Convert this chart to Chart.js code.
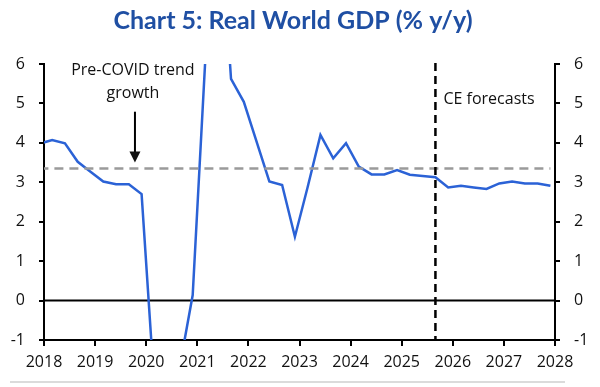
<!DOCTYPE html>
<html>
<head>
<meta charset="utf-8">
<script src="https://cdn.jsdelivr.net/npm/chart.js@4.4.0/dist/chart.umd.min.js"></script>
<style>
  html, body { margin: 0; padding: 0; background: #fff; }
  #wrap { width: 600px; height: 387px; }
</style>
</head>
<body>
<div id="wrap"><canvas id="gdpChart" width="600" height="387"></canvas></div>
<script>
// Real world GDP, % y/y (quarterly, forecasts from 2025Q3)
const quarters = [
    '2017Q4',
    '2018Q1', '2018Q2', '2018Q3', '2018Q4',
    '2019Q1', '2019Q2', '2019Q3', '2019Q4',
    '2020Q1', '2020Q2', '2020Q3', '2020Q4',
    '2021Q1', '2021Q2', '2021Q3', '2021Q4',
    '2022Q1', '2022Q2', '2022Q3', '2022Q4',
    '2023Q1', '2023Q2', '2023Q3', '2023Q4',
    '2024Q1', '2024Q2', '2024Q3', '2024Q4',
    '2025Q1', '2025Q2', '2025Q3', '2025Q4',
    '2026Q1', '2026Q2', '2026Q3', '2026Q4',
    '2027Q1', '2027Q2', '2027Q3', '2027Q4'
];
const gdpGrowth = [
    3.98,
    4.07, 3.99, 3.52, 3.27,
    3.02, 2.95, 2.95, 2.70,
    -2.2, -10.0, -1.65, 0.14,
    6.2, 10.5, 5.62, 5.04,
    4.03, 3.02, 2.93, 1.62,
    2.88, 4.20, 3.61, 3.99,
    3.40, 3.20, 3.20, 3.31,
    3.19, 3.16, 3.13, 2.87,
    2.91, 2.87, 2.83, 2.97,
    3.02, 2.97, 2.97, 2.91
];
const trendGrowth = 3.35;
const forecastStart = '2025Q3';
const yearTicks = [2018, 2019, 2020, 2021, 2022, 2023, 2024, 2025, 2026, 2027, 2028];
const yMin = -1, yMax = 6;

const FONT = '"Open Sans", "Liberation Sans", sans-serif';

// quarter label -> position on a year axis (points sit mid quarter)
function quarterPos(q) {
    const yr = parseInt(q.slice(0, 4), 10);
    const n = parseInt(q.slice(5), 10);
    return yr + (n - 1) * 0.25 + 0.16;
}

const gdpPoints = quarters.map((q, i) => ({ x: quarterPos(q), y: gdpGrowth[i] }));
const trendPoints = [
    { x: quarterPos(quarters[0]), y: trendGrowth },
    { x: quarterPos(quarters[quarters.length - 1]), y: trendGrowth }
];

// extras: title, zero line, forecast marker, notes
const extrasPlugin = {
    id: 'extras',
    beforeDatasetsDraw(chart) {
        const { ctx, chartArea: a, scales } = chart;
        const y0 = scales.y.getPixelForValue(0);
        ctx.save();
        ctx.strokeStyle = '#000';
        ctx.lineWidth = 2;
        ctx.beginPath();
        ctx.moveTo(a.left, y0);
        ctx.lineTo(a.right, y0);
        ctx.stroke();
        ctx.restore();
    },
    afterDatasetsDraw(chart) {
        const { ctx, chartArea: a, scales } = chart;
        const x = scales.x, y = scales.y;

        // forecast divider
        const fx = x.getPixelForValue(quarterPos(forecastStart));
        ctx.save();
        ctx.strokeStyle = '#000';
        ctx.lineWidth = 2.5;
        ctx.setLineDash([8, 5]);
        ctx.beginPath();
        ctx.moveTo(fx, a.top - 1);
        ctx.lineTo(fx, a.bottom);
        ctx.stroke();
        ctx.restore();

        ctx.save();
        ctx.fillStyle = '#111';
        ctx.font = '16px ' + FONT;
        ctx.textBaseline = 'middle';
        ctx.textAlign = 'left';
        ctx.fillText('CE forecasts', fx + 8, y.getPixelForValue(5.1));

        // pre-covid note + arrow
        const nx = x.getPixelForValue(2019.74);
        ctx.textAlign = 'center';
        ctx.fillText('Pre-COVID trend', nx, y.getPixelForValue(5.83));
        ctx.fillText('growth', nx, y.getPixelForValue(5.26));

        const ax = x.getPixelForValue(2019.78);
        const aTop = y.getPixelForValue(4.79);
        const aTip = y.getPixelForValue(3.5);
        ctx.strokeStyle = '#000';
        ctx.lineWidth = 2;
        ctx.beginPath();
        ctx.moveTo(ax, aTop);
        ctx.lineTo(ax, aTip - 8);
        ctx.stroke();
        ctx.beginPath();
        ctx.moveTo(ax - 5.5, aTip - 11);
        ctx.lineTo(ax + 5.5, aTip - 11);
        ctx.lineTo(ax, aTip);
        ctx.closePath();
        ctx.fill();
        ctx.restore();
    },
    afterDraw(chart) {
        const { ctx } = chart;
        ctx.save();
        ctx.fillStyle = '#1f4fa3';
        ctx.font = 'bold 25px Lato, ' + FONT;
        ctx.textAlign = 'center';
        ctx.textBaseline = 'middle';
        ctx.fillText('Chart 5: Real World GDP (% y/y)', 293, 21);

        ctx.strokeStyle = '#cfcfcf';
        ctx.lineWidth = 1.5;
        ctx.beginPath();
        ctx.moveTo(10, 382);
        ctx.lineTo(565, 382);
        ctx.stroke();
        ctx.restore();
    }
};

const axisGrid = {
    drawOnChartArea: false,
    drawTicks: true,
    tickLength: 5,
    color: '#000',
    lineWidth: 2
};

const ctx = document.getElementById('gdpChart').getContext('2d');
const gdpChart = new Chart(ctx, {
    type: 'line',
    data: {
        datasets: [
            {
                label: 'Trend',
                data: trendPoints,
                borderColor: '#9a9a9a',
                borderWidth: 2.5,
                borderDash: [9, 6],
                pointRadius: 0,
                clip: 0
            },
            {
                label: 'Real world GDP',
                data: gdpPoints,
                borderColor: '#2b62d6',
                borderWidth: 2.5,
                pointRadius: 0,
                tension: 0,
                clip: 0
            }
        ]
    },
    options: {
        responsive: false,
        devicePixelRatio: 1,
        animation: false,
        layout: { padding: { top: 64, left: 0, right: 0, bottom: 0 } },
        scales: {
            x: {
                type: 'linear',
                min: yearTicks[0],
                max: yearTicks[yearTicks.length - 1],
                afterBuildTicks: s => { s.ticks = yearTicks.map(v => ({ value: v })); },
                afterFit: s => { s.height = 47; },
                grid: { ...axisGrid, tickLength: 6 },
                border: { color: '#000', width: 2 },
                ticks: {
                    color: '#111',
                    font: { family: FONT, size: 16, lineHeight: 2.05 },
                    padding: 0,
                    maxRotation: 0,
                    callback: v => String(v)
                }
            },
            y: {
                position: 'left',
                min: yMin,
                max: yMax,
                afterFit: s => { s.width = 44; },
                grid: axisGrid,
                border: { color: '#000', width: 2 },
                ticks: {
                    stepSize: 1,
                    color: '#111',
                    font: { family: FONT, size: 16 },
                    padding: 14
                }
            },
            y2: {
                position: 'right',
                min: yMin,
                max: yMax,
                afterFit: s => { s.width = 45; },
                grid: axisGrid,
                border: { color: '#000', width: 2 },
                ticks: {
                    stepSize: 1,
                    color: '#111',
                    font: { family: FONT, size: 16 },
                    padding: 14
                }
            }
        },
        plugins: {
            legend: { display: false },
            tooltip: { enabled: false }
        }
    },
    plugins: [extrasPlugin]
});
</script>
</body>
</html>
